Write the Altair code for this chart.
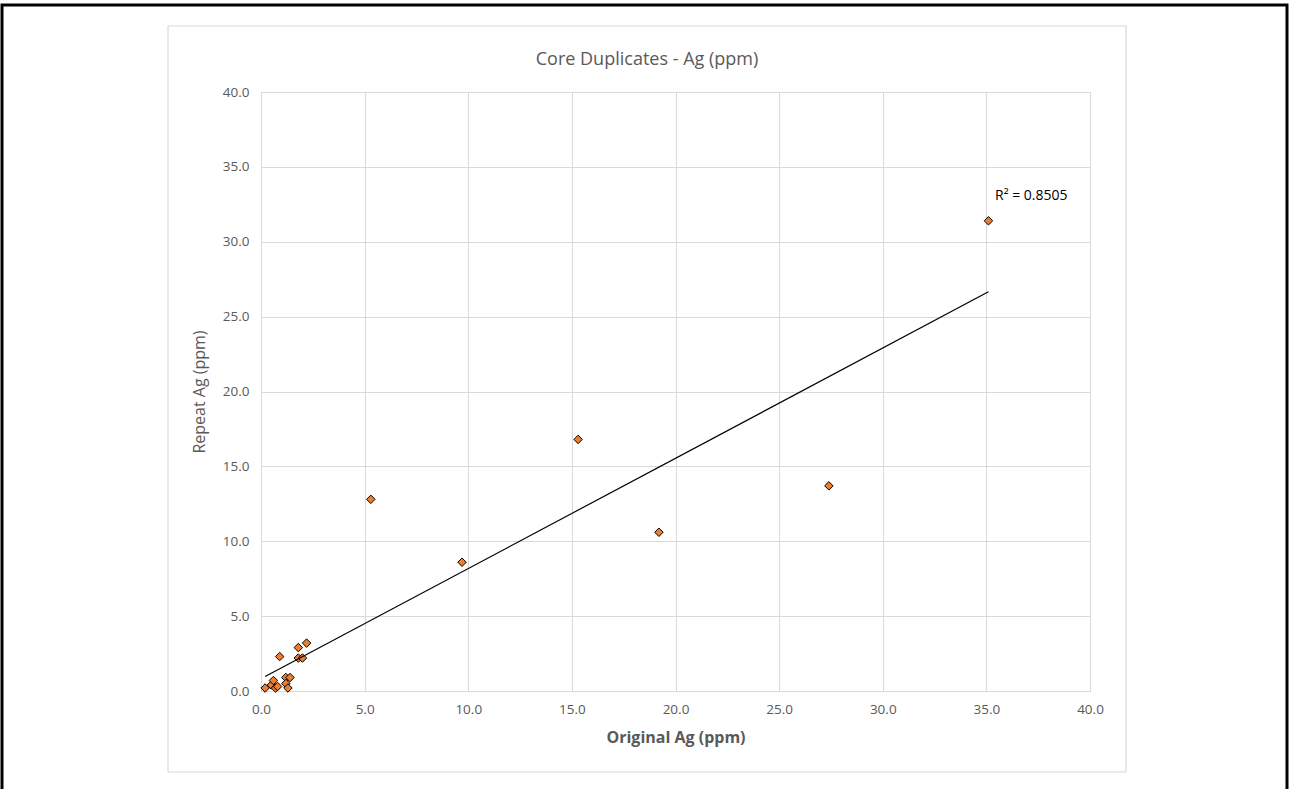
import altair as alt
import pandas as pd

# ---- data ----
original = [0.2, 0.5, 0.6, 0.7, 0.8, 1.2, 1.4, 1.2, 1.3, 0.9, 1.8, 2.2, 1.8, 2.0,
            5.3, 9.7, 15.3, 19.2, 27.4, 35.1]
repeat = [0.2, 0.4, 0.7, 0.2, 0.3, 0.9, 0.9, 0.5, 0.2, 2.3, 2.9, 3.2, 2.2, 2.2,
          12.8, 8.6, 16.8, 10.6, 13.7, 31.4]
x_ticks = [0, 5, 10, 15, 20, 25, 30, 35, 40]
y_ticks = [0, 5, 10, 15, 20, 25, 30, 35, 40]
title_text = "Core Duplicates - Ag (ppm)"
x_title = "Original Ag (ppm)"
y_title = "Repeat Ag (ppm)"
r2_text = "R² = 0.8505"

df = pd.DataFrame({"orig": original, "rep": repeat})
one = pd.DataFrame({"k": [0]})

FONT = "Open Sans"
GRAY = "#595959"

xs = alt.Scale(domain=[0, 40], nice=False, zero=False)
ys = alt.Scale(domain=[0, 40], nice=False, zero=False)

x_axis = alt.Axis(values=x_ticks, format=".1f", title=x_title, grid=True,
                  labelFlush=False, labelPadding=11, titlePadding=14,
                  titleFontWeight="bold", titleFontSize=16, labelFontSize=13.5)
y_axis = alt.Axis(values=y_ticks, format=".1f", title=y_title, grid=True,
                  labelFlush=False, labelPadding=12, titlePadding=15,
                  titleFontWeight="normal", titleFontSize=16, labelFontSize=13.5)

points = alt.Chart(df).mark_point(
    shape="diamond", filled=True, fill="#ED7D31", stroke="black",
    strokeWidth=1, size=72, opacity=1
).encode(
    x=alt.X("orig:Q", scale=xs, axis=x_axis),
    y=alt.Y("rep:Q", scale=ys, axis=y_axis),
)

trend = alt.Chart(df).transform_regression("orig", "rep").mark_line(
    color="black", strokeWidth=1.2
).encode(
    x=alt.X("orig:Q", scale=xs),
    y=alt.Y("rep:Q", scale=ys),
)

frame = alt.Chart(one).mark_rect(
    fillOpacity=0, stroke="#d9d9d9", strokeWidth=1.2
).encode(
    x=alt.value(-93), x2=alt.value(865), y=alt.value(-66), y2=alt.value(680)
)

outer = alt.Chart(one).mark_rect(
    fillOpacity=0, stroke="black", strokeWidth=3
).encode(
    x=alt.value(-259), x2=alt.value(1026), y=alt.value(-87), y2=alt.value(720)
)

title = alt.Chart(one).mark_text(
    font=FONT, fontSize=18, color=GRAY, align="center", baseline="middle"
).encode(
    x=alt.value(386), y=alt.value(-32), text=alt.value(title_text)
)

r2 = alt.Chart(one).mark_text(
    font=FONT, fontSize=14, color="black", align="left", baseline="middle"
).encode(
    x=alt.value(734), y=alt.value(104), text=alt.value(r2_text)
)

chart = alt.layer(frame, outer, points, trend, title, r2).properties(
    width=829, height=599,
    autosize=alt.AutoSizeParams(type="none"),
    padding={"left": 261, "top": 92, "right": 200, "bottom": 98},
    background="white",
).configure_view(stroke=None).configure_axis(
    gridColor="#d9d9d9", gridWidth=1, domainColor="#d9d9d9", ticks=False,
    labelColor=GRAY, titleColor=GRAY, labelFont=FONT, titleFont=FONT,
)

chart.save("out.html", embed_options={"renderer": "svg", "actions": False})
